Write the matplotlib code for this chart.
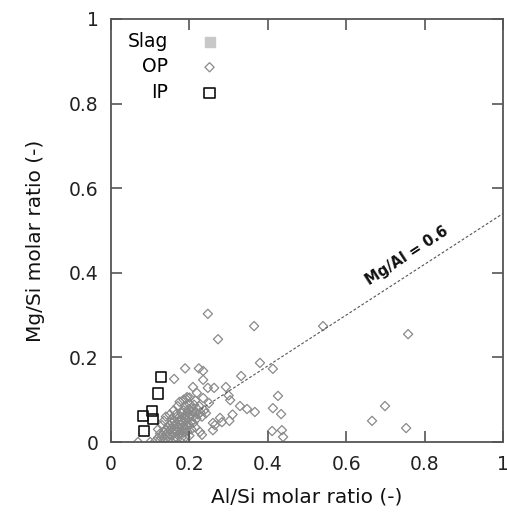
import numpy as np
import matplotlib.pyplot as plt

# OP points (Al/Si, Mg/Si)
op_x = [0.247, 0.365, 0.273, 0.541, 0.758, 0.380, 0.413, 0.332,
        0.189, 0.224, 0.235, 0.161, 0.235, 0.209, 0.247, 0.263, 0.293,
        0.426, 0.219, 0.191, 0.304, 0.300, 0.329, 0.347, 0.367, 0.413, 0.434,
        0.278, 0.260, 0.283, 0.265, 0.227, 0.232, 0.260,
        0.411, 0.436, 0.439, 0.699, 0.666, 0.753,
        0.069, 0.100, 0.113, 0.250, 0.235, 0.194, 0.310, 0.302,
        0.120, 0.125, 0.130, 0.135, 0.140, 0.140, 0.145, 0.145, 0.150, 0.150,
        0.155, 0.155, 0.160, 0.160, 0.162, 0.165, 0.165, 0.170, 0.170, 0.172,
        0.175, 0.175, 0.178, 0.180, 0.180, 0.182, 0.185, 0.185, 0.188, 0.190,
        0.190, 0.192, 0.195, 0.195, 0.198, 0.200, 0.200, 0.203, 0.205, 0.205,
        0.208, 0.210, 0.212, 0.215, 0.218, 0.220, 0.222, 0.225, 0.228, 0.232,
        0.238, 0.242, 0.130, 0.135, 0.140, 0.150, 0.160, 0.170, 0.175, 0.185,
        0.120, 0.125, 0.135, 0.145, 0.155, 0.165, 0.175, 0.185, 0.195, 0.205,
        0.215, 0.150, 0.160, 0.170, 0.180, 0.190, 0.200, 0.210, 0.145, 0.160,
        0.170, 0.180, 0.190, 0.200, 0.155, 0.165, 0.200, 0.215]
op_y = [0.303, 0.274, 0.243, 0.274, 0.255, 0.187, 0.173, 0.156,
        0.174, 0.174, 0.168, 0.149, 0.147, 0.130, 0.128, 0.128, 0.130,
        0.109, 0.116, 0.102, 0.099, 0.110, 0.085, 0.078, 0.071, 0.080, 0.066,
        0.057, 0.045, 0.047, 0.040, 0.024, 0.017, 0.028,
        0.026, 0.028, 0.012, 0.085, 0.050, 0.033,
        0.000, 0.000, 0.002, 0.092, 0.104, 0.106, 0.065, 0.050,
        0.010, 0.020, 0.015, 0.025, 0.030, 0.018, 0.035, 0.022, 0.028, 0.040,
        0.033, 0.045, 0.030, 0.038, 0.050, 0.025, 0.042, 0.035, 0.055, 0.048,
        0.030, 0.060, 0.040, 0.052, 0.068, 0.045, 0.058, 0.075, 0.035, 0.062,
        0.085, 0.050, 0.070, 0.040, 0.078, 0.058, 0.090, 0.065, 0.048, 0.080,
        0.072, 0.060, 0.088, 0.070, 0.055, 0.078, 0.065, 0.085, 0.070, 0.060,
        0.075, 0.068, 0.040, 0.050, 0.060, 0.065, 0.075, 0.085, 0.095, 0.100,
        0.030, 0.005, 0.008, 0.012, 0.015, 0.012, 0.018, 0.022, 0.025, 0.030,
        0.035, 0.020, 0.022, 0.025, 0.028, 0.030, 0.040, 0.045, 0.003, 0.004,
        0.008, 0.010, 0.012, 0.015, 0.055, 0.065, 0.105, 0.098]

# IP points
ip_x = [0.128, 0.120, 0.105, 0.082, 0.107, 0.084]
ip_y = [0.154, 0.115, 0.074, 0.062, 0.054, 0.026]

# Slag (legend only)
slag_x = []
slag_y = []

ratio = 0.6

plt.rcParams['font.family'] = 'DejaVu Sans'
fig = plt.figure(figsize=(5.07, 5.21), dpi=100)
ax = fig.add_axes([0.219, 0.1516, 0.773, 0.812])

ax.scatter(slag_x, slag_y, marker='s', s=55, color='#c8c8c8', label='Slag')
ax.scatter(op_x, op_y, marker='D', s=22, facecolors='none', edgecolors='#8a8a8a',
           linewidths=0.9, label='OP')
ax.scatter(ip_x, ip_y, marker='s', s=55, facecolors='none', edgecolors='#111111',
           linewidths=1.2, label='IP', zorder=3)

# Mg/Al = 0.6 reference line
xl = np.array([0.23, 1.0])
ax.plot(xl, ratio * xl - 0.06, color='#555555', lw=0.8, ls=(0, (2.5, 1.8)))
ax.text(0.755, 0.44, 'Mg/Al = 0.6', rotation=33, fontsize=10.5, fontweight='bold',
        ha='center', va='center', color='#111111')

ax.set_xlim(0, 1)
ax.set_ylim(0, 1)
ax.set_xticks([0, 0.2, 0.4, 0.6, 0.8, 1])
ax.set_xticklabels(['0', '0.2', '0.4', '0.6', '0.8', '1'])
ax.set_yticks([0, 0.2, 0.4, 0.6, 0.8, 1])
ax.set_yticklabels(['0', '0.2', '0.4', '0.6', '0.8', '1'])
ax.tick_params(direction='in', length=8, width=1.2, color='#555555',
               top=True, right=True, labelsize=13.5, labelcolor='#222222', pad=9)
for sp in ax.spines.values():
    sp.set_color('#555555')
    sp.set_linewidth(1.3)

ax.set_xlabel('Al/Si molar ratio (-)', fontsize=14.5, color='#111111', labelpad=10)
ax.set_ylabel('Mg/Si molar ratio (-)', fontsize=14.5, color='#111111')
ax.yaxis.set_label_coords(-0.168, 0.475)

ax.legend(loc='upper left', bbox_to_anchor=(0.0, 1.01), frameon=False,
          markerfirst=False, fontsize=13.5, handlelength=0.8, handletextpad=1.8,
          labelspacing=0.35, scatterpoints=1)

fig.savefig('out.png', dpi=100)
